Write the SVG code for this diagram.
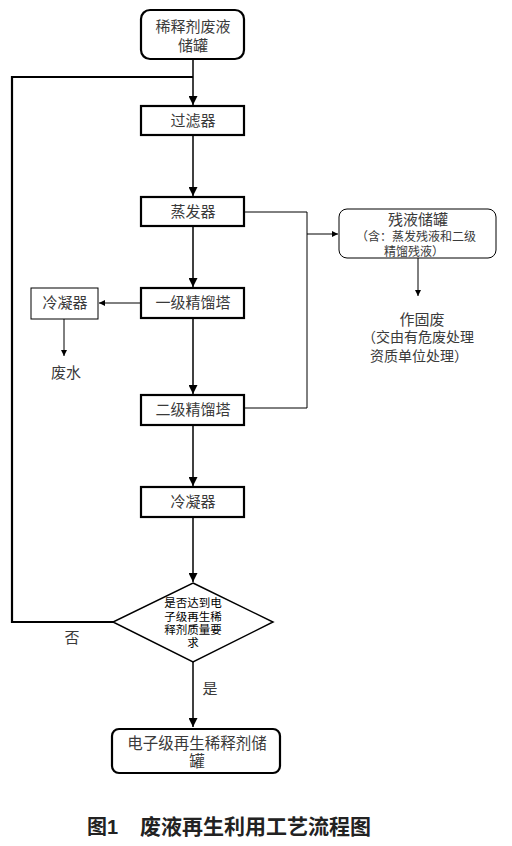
<svg xmlns="http://www.w3.org/2000/svg" width="512" height="846" viewBox="0 0 512 846">
<style>
.box{fill:#fff;stroke:#000;stroke-width:2.2}
.thinbox{fill:#fff;stroke:#000;stroke-width:1}
.t{font-family:"Liberation Sans","Noto Sans CJK SC",sans-serif;fill:#3a3a3a;text-anchor:middle}
.l{fill:none;stroke:#000;stroke-width:1.5}
.lt{fill:none;stroke:#000;stroke-width:1}
.lb{fill:none;stroke:#000;stroke-width:2.2}
</style>
<defs>
<marker id="ah" markerUnits="userSpaceOnUse" viewBox="0 0 10 10" refX="10" refY="5" markerWidth="9" markerHeight="9" orient="auto"><path d="M0,0 L10,5 L0,10 Z" fill="#000"/></marker>
<marker id="as" markerUnits="userSpaceOnUse" viewBox="0 0 10 10" refX="10" refY="5" markerWidth="6" markerHeight="6" orient="auto"><path d="M0,0 L10,5 L0,10 Z" fill="#000"/></marker>
</defs>
<g id="connectors">
<path class="l" d="M193,59 V105" marker-end="url(#ah)"/>
<path class="lb" d="M193,77 H12 V622 H113"/>
<path class="l" d="M193,135 V196" marker-end="url(#ah)"/>
<path class="l" d="M193,226 V287" marker-end="url(#ah)"/>
<path class="l" d="M193,318 V394" marker-end="url(#ah)"/>
<path class="l" d="M193,425 V486" marker-end="url(#ah)"/>
<path class="l" d="M193,517 V582" marker-end="url(#ah)"/>
<path class="l" d="M193,662 V727" marker-end="url(#ah)"/>
<path class="lt" d="M244,212 H307 V408 H244"/>
<path class="lt" d="M307,234 H338" marker-end="url(#as)"/>
<path class="lt" d="M418,258 V296" marker-end="url(#as)"/>
<path class="lt" d="M141,303 H99" marker-end="url(#as)"/>
<path class="lt" d="M64,319 V356" marker-end="url(#as)"/>
</g>
<g id="n1"><rect class="box" x="141" y="10" width="103" height="49" rx="9"/>
<text class="t" x="193" y="32" font-size="15">稀释剂废液</text><text class="t" x="193" y="51" font-size="15">储罐</text></g>
<g id="n2"><rect class="box" x="141" y="106" width="103" height="29"/><text class="t" x="193" y="126" font-size="15">过滤器</text></g>
<g id="n3"><rect class="box" x="141" y="197" width="103" height="29"/><text class="t" x="193" y="217" font-size="15">蒸发器</text></g>
<g id="n4"><rect class="thinbox" x="339" y="209" width="157" height="49" rx="8"/>
<text class="t" x="418" y="225" font-size="15">残液储罐</text>
<text class="t" x="416" y="241" font-size="12">（含：蒸发残液和二级</text>
<text class="t" x="414" y="256" font-size="12">精馏残液）</text></g>
<g id="n5"><text class="t" x="422" y="325" font-size="15">作固废</text>
<text class="t" x="362" y="342" font-size="14" style="text-anchor:start">（交由有危废处理</text>
<text class="t" x="370" y="361" font-size="14" style="text-anchor:start">资质单位处理）</text></g>
<g id="n6"><rect class="box" x="141" y="288" width="103" height="30"/><text class="t" x="193" y="308" font-size="15">一级精馏塔</text></g>
<g id="n7"><rect class="thinbox" x="31" y="288" width="67" height="31"/><text class="t" x="65" y="308" font-size="15">冷凝器</text></g>
<g id="n8"><text class="t" x="66" y="378" font-size="15">废水</text></g>
<g id="n9"><rect class="box" x="141" y="395" width="103" height="30"/><text class="t" x="193" y="415" font-size="15">二级精馏塔</text></g>
<g id="n10"><rect class="box" x="141" y="487" width="103" height="30"/><text class="t" x="193" y="507" font-size="15">冷凝器</text></g>
<g id="n11"><path class="box" style="stroke-width:1.5" d="M193,583 L273,622 L193,662 L113,622 Z"/>
<g class="t" font-size="11.5" style="fill:#000">
<text x="193" y="607">是否达到电</text><text x="193" y="621">子级再生稀</text><text x="193" y="634">释剂质量要</text><text x="193" y="647">求</text></g></g>
<g id="labels"><text class="t" x="72" y="643" font-size="15">否</text><text class="t" x="210" y="694" font-size="15">是</text></g>
<g id="n12"><rect class="box" x="112" y="729" width="168" height="44" rx="7"/>
<text class="t" x="197" y="749" font-size="15.5">电子级再生稀释剂储</text><text class="t" x="197" y="767" font-size="15.5">罐</text></g>
<g id="caption"><text x="87" y="834" font-family="Liberation Sans,Noto Sans CJK SC,sans-serif" font-size="20" font-weight="bold" fill="#222">图1</text>
<text x="140" y="834" font-family="Liberation Sans,Noto Sans CJK SC,sans-serif" font-size="21" font-weight="bold" fill="#222">废液再生利用工艺流程图</text></g>
</svg>
